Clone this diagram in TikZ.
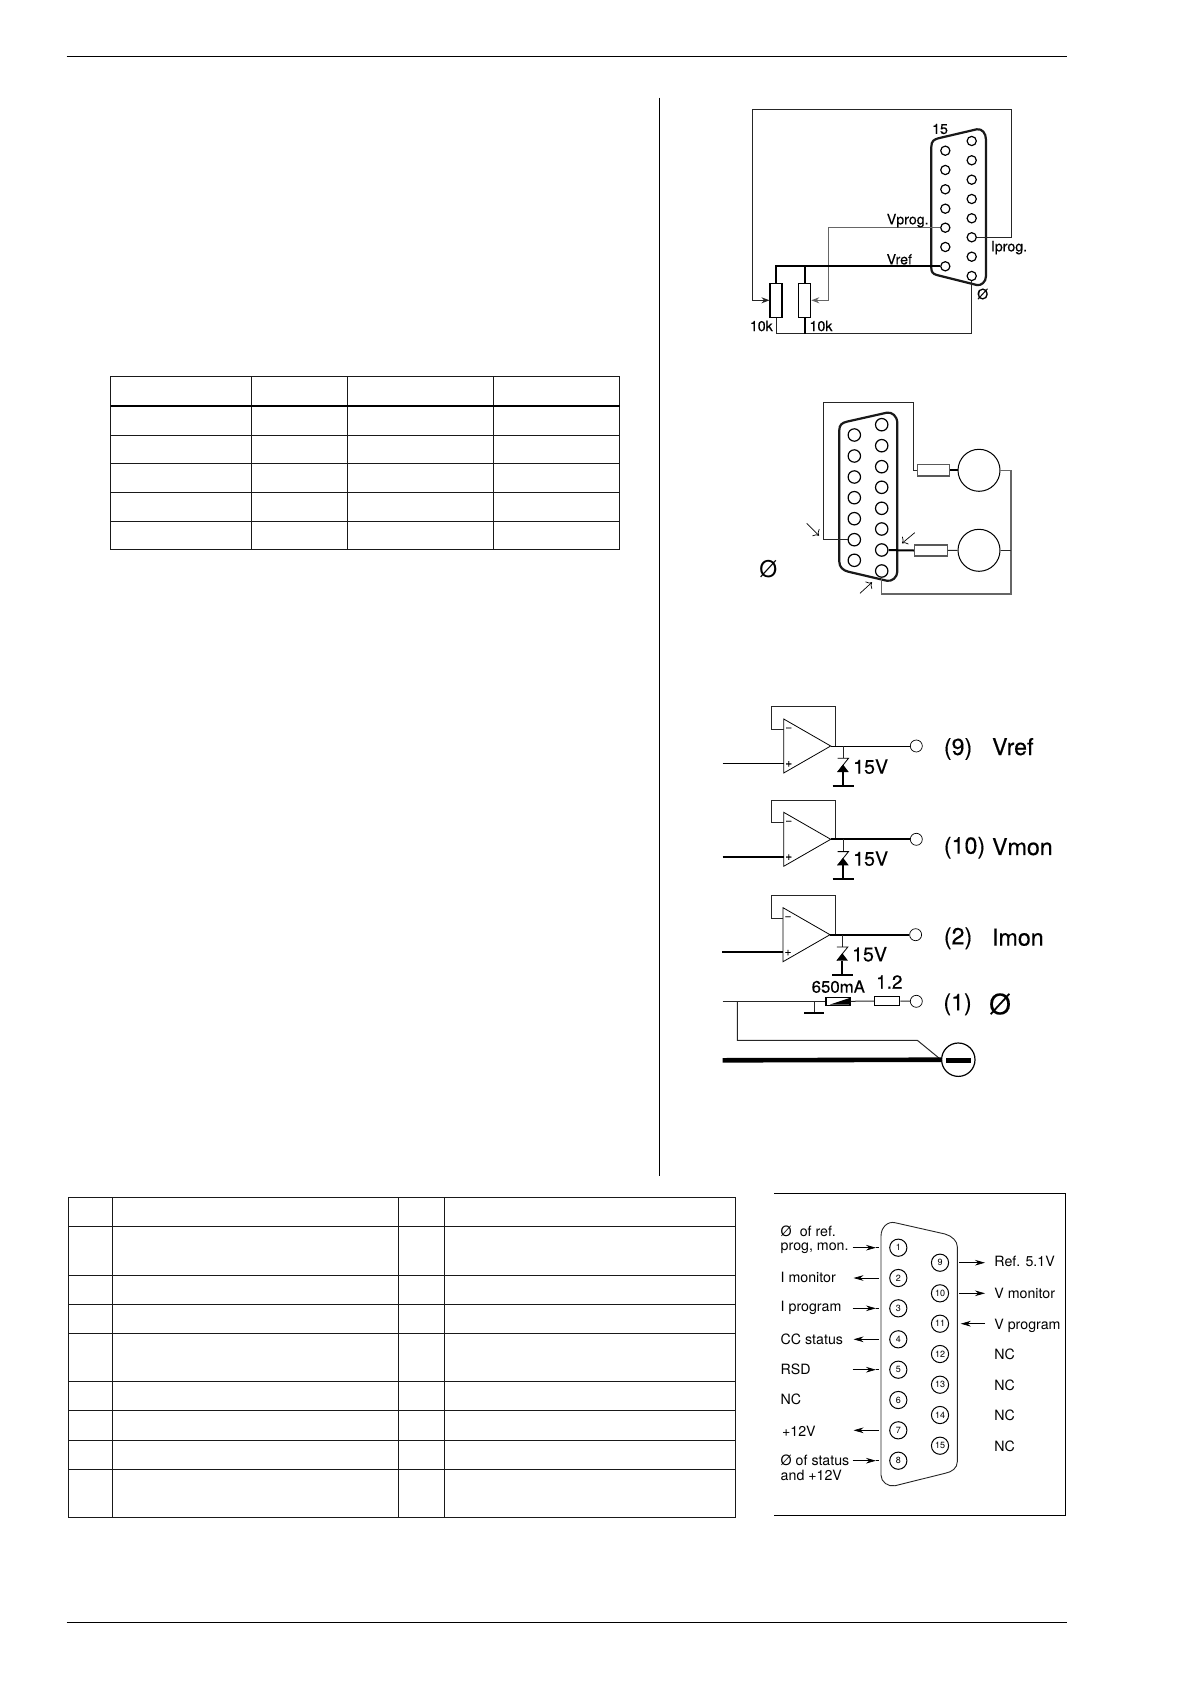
\documentclass[tikz,border=0pt]{standalone}
\usepackage{fontspec}
\setmainfont{TeX Gyre Heros}
\newfontfamily\heavyface{TeX Gyre Heros}[FakeBold=0.35]
\usetikzlibrary{arrows.meta}
\newcommand{\fsz}[1]{\fontsize{#1}{#1}\selectfont}
\tikzset{
  lab/.style={inner sep=0pt, font=\fsz{7.1}},
  labheavy/.style={inner sep=0pt, font=\heavyface\fsz{7.1}},
  labbig/.style={inner sep=0pt, font=\heavyface\fsz{11.6}},
  labmid/.style={inner sep=0pt, font=\heavyface\fsz{9.8}},
  wire/.style={line width=0.5pt, black!85},
  wiregray/.style={line width=0.6pt, black!60},
  wirebold/.style={line width=1pt, black},
  shell/.style={line width=1.1pt, black!90},
  pinsmall/.style={circle, draw, line width=0.6pt, fill=white, inner sep=0pt, minimum size=4.6pt},
  pinbig/.style={circle, draw, line width=0.6pt, fill=white, inner sep=0pt, minimum size=6.2pt},
  pinnum/.style={circle, draw, line width=0.5pt, fill=white, inner sep=0pt, minimum size=8.6pt, font=\fsz{4.5}},
  pad/.style={circle, draw, line width=0.35pt, fill=white, inner sep=0pt, minimum size=6pt},
  res/.style={rectangle, draw, line width=0.55pt, fill=white, inner sep=0pt},
  meter/.style={circle, draw, line width=0.5pt, fill=white, inner sep=0pt, minimum size=21pt},
  grid/.style={line width=0.5pt, black!90},
  tagarrow/.style={line width=0.35pt, -{Stealth[length=5pt,width=2.8pt]}},
  pics/opstage/.style={code={
    \draw[line width=0.4pt] (-47,-27) -- (-47,27) -- (0,0) -- cycle;
    \node[pad] (pin) at (85.6,0) {};
    \coordinate (fb) at (5,0);
    \draw[wire] (-47,-16.7) -- (-59,-16.7) -- (-59,-39.3) -- (5,-39.3) -- (fb);
    \draw[line width=#1] (0,0) -- (pin);
    \draw[line width=#1] (-108,17.3) -- (-47,17.3);
    \node[inner sep=0pt, font=\heavyface\fsz{6}] at (-42,-16.7) {\char"2212};
    \node[inner sep=0pt, font=\heavyface\fsz{6}] at (-42,18) {+};
    \draw[wire] (12.3,0) -- (12.3,12.3);
    \draw[line width=0.4pt] (6.8,12.3) -- (17.8,12.3) -- (6.8,26);
    \fill (12.3,18.5) -- (18,26) -- (6.8,26) -- cycle;
    \draw[wirebold] (12.3,26) -- (12.3,40);
    \draw[line width=1pt] (2,40) -- (23,40);
  }},
}
\begin{document}
\begin{tikzpicture}[x=0.5pt,y=-0.5pt]
  \useasboundingbox (0,0) rectangle (1192,1684);
  \draw[line width=0.5pt] (66.6,57) -- (1066.5,57);
  \draw[line width=0.5pt] (66.6,1622.8) -- (1066.5,1622.8);
  \draw[line width=0.7pt] (659.4,97.7) -- (659.4,1176);

  \draw[grid] (110.5,377) rectangle (619.5,549);
  \draw[grid] (251.3,377) -- (251.3,549);
  \draw[grid] (347.1,377) -- (347.1,549);
  \draw[grid] (493.3,377) -- (493.3,549);
  \draw[line width=1.1pt] (110.5,405.7) -- (619.5,405.7);
  \draw[grid] (110.5,435.3) -- (619.5,435.3);
  \draw[grid] (110.5,463.3) -- (619.5,463.3);
  \draw[grid] (110.5,492.3) -- (619.5,492.3);
  \draw[grid] (110.5,521.3) -- (619.5,521.3);

  \draw[grid] (68.3,1197.3) rectangle (735.3,1517.7);
  \draw[grid] (112.5,1197.3) -- (112.5,1517.7);
  \draw[grid] (398.7,1197.3) -- (398.7,1517.7);
  \draw[grid] (444.6,1197.3) -- (444.6,1517.7);
  \draw[grid] (68.3,1226.3) -- (735.3,1226.3);
  \draw[grid] (68.3,1275.3) -- (735.3,1275.3);
  \draw[grid] (68.3,1304.3) -- (735.3,1304.3);
  \draw[grid] (68.3,1333.3) -- (735.3,1333.3);
  \draw[grid] (68.3,1381.3) -- (735.3,1381.3);
  \draw[grid] (68.3,1410.3) -- (735.3,1410.3);
  \draw[grid] (68.3,1440.3) -- (735.3,1440.3);
  \draw[grid] (68.3,1469.3) -- (735.3,1469.3);

  \draw[shell] (931.3,268) -- (931.3,147) .. controls (931.3,141) and (934,139.5) .. (938.3,138.3) -- (976.7,129.3) .. controls (982,128.5) and (986,133) .. (986,140) -- (986,276) .. controls (986,282) and (981,286) .. (976.7,285) -- (936.7,275) .. controls (933,274) and (931.3,272) .. (931.3,268) -- cycle;
  \foreach \n/\y in {1/150.7,2/170,3/189.3,4/208.7,5/227.7,6/247,7/266.3}
    \node[pinsmall] (pa\n) at (945.3,\y) {};
  \foreach \n/\y in {1/141,2/160.3,3/179.7,4/199,5/218.3,6/237.3,7/256.7,8/276}
    \node[pinsmall] (pb\n) at (971.7,\y) {};
  \node[res, minimum width=6pt, minimum height=17pt] (rone) at (776,300.3) {};
  \node[res, minimum width=6pt, minimum height=17pt] (rtwo) at (804.7,300.3) {};
  \coordinate (busa) at (752.7,109.3);
  \coordinate (busb) at (1011,109.3);
  \coordinate (busc) at (828.7,227.7);
  \coordinate (retn) at (776,334);
  \draw[wire, -{Stealth[length=4pt,width=3pt]}] (pb6) -| (busb) -- (busa) |- (rone.west);
  \draw[wiregray, -{Stealth[length=4pt,width=3pt]}] (pa5) -- (busc) |- (rtwo.east);
  \draw[wirebold] (pa7) -| (rone.north);
  \draw[wirebold] (rtwo.north) -- (rtwo.north |- pa7);
  \draw[wire] (rone.south) -- (retn) -| (pb8);
  \draw[wirebold] (rtwo.south) -- (rtwo.south |- retn);
  \node[labheavy] (nfif) at (940,129) {15};
  \node[labheavy] (nvpr) at (907.7,220.7) {Vprog.};
  \node[labheavy] (nipr) at (1009,247.7) {Iprog.};
  \node[labheavy] (nvrf) at (899.3,259.3) {Vref};
  \node[labheavy] (ngnd) at (982.7,294) {Ø};
  \node[labheavy] (nrone) at (761.3,326) {10k};
  \node[labheavy] (nrtwo) at (821,326) {10k};

  \draw[shell] (839.3,561.7) -- (839.3,430) .. controls (839.3,425) and (842,422.8) .. (846.7,421.7) -- (886.7,412.7) .. controls (892,411.8) and (897.3,416) .. (897.3,423.3) -- (897.3,571.7) .. controls (897.3,577) and (892,582) .. (886.7,580.7) -- (848.3,571.7) .. controls (843,570.5) and (839.3,567) .. (839.3,561.7) -- cycle;
  \foreach \n/\y in {1/435,2/456,3/477,4/497.7,5/518.7,6/539.7,7/560.3}
    \node[pinbig] (qa\n) at (854.3,\y) {};
  \foreach \n/\y in {1/424.7,2/445.7,3/466.7,4/487.3,5/508.3,6/529,7/550,8/571}
    \node[pinbig] (qb\n) at (881.7,\y) {};
  \node[res, draw=black!65, minimum width=16.3pt, minimum height=5.7pt] (rtop) at (933.6,470.3) {};
  \node[res, draw=black!65, minimum width=16.5pt, minimum height=5.5pt] (rbot) at (930.8,550.5) {};
  \node[meter] (mtop) at (979,470.3) {};
  \node[meter] (mbot) at (979,550.3) {};
  \coordinate (lpa) at (823.3,402.7);
  \coordinate (lpb) at (913.3,402.7);
  \coordinate (rgt) at (1011,594);
  \draw[wire] (qa6) -- (qa6 -| lpa) -- (lpa) -- (lpb) |- (rtop.west);
  \draw[wirebold] (rtop.east) -- (mtop);
  \draw[wirebold] (qb7) -- (rbot.west);
  \draw[wire] (rbot.east) -- (mbot);
  \draw[wiregray] (mtop.east) -| (rgt) -| (qb8);
  \draw[wire] (mbot.east) -- (mbot.east -| rgt);
  \draw[line width=0.35pt, ->] (806.7,523.3) -- (819,535.7);
  \draw[line width=0.35pt, ->] (914.7,532.7) -- (902,543.3);
  \draw[line width=0.35pt, ->] (860,593.3) -- (872,582.3);
  \node[inner sep=0pt, font=\fsz{11.5}] (nnull) at (768.3,569) {Ø};

  \path (830.7,746) pic (sa) {opstage=0.4pt};
  \path (830.7,839.3) pic (sb) {opstage=0.95pt};
  \path (830,934.7) pic (sc) {opstage=0.95pt};
  \node[labmid, anchor=west] (nzna) at (852.8,766.7) {15V};
  \node[labmid, anchor=west] (nznb) at (852.8,858.7) {15V};
  \node[labmid, anchor=west] (nznc) at (851.7,954.3) {15V};
  \node[labbig, anchor=west] (nnra) at (943.5,749) {(9)};
  \node[labbig, anchor=west] (nnma) at (991.7,746.7) {Vref};
  \node[labbig, anchor=west] (nnrb) at (943.5,847.7) {(10)};
  \node[labbig, anchor=west] (nnmb) at (991.7,846.7) {Vmon};
  \node[labbig, anchor=west] (nnrc) at (943.5,938.3) {(2)};
  \node[labbig, anchor=west] (nnmc) at (991.7,937.3) {Imon};
  \node[labbig, anchor=west] (nnrd) at (943,1004.3) {(1)};
  \node[inner sep=0pt, font=\heavyface\fsz{14}] (nnmd) at (1000,1004) {Ø};
  \node[inner sep=0pt, font=\heavyface\fsz{8.4}] (nfuse) at (838.3,986.7) {650mA};
  \node[inner sep=0pt, font=\heavyface\fsz{9.5}] (nohm) at (889.3,982) {1.2};

  \node[res, minimum width=12pt, minimum height=4pt] (fuse) at (838,1001.3) {};
  \fill (830,1004.5) -- (849.5,998) -- (849.5,1004.5) -- cycle;
  \node[res, minimum width=12.5pt, minimum height=4.3pt] (rser) at (887.2,1001) {};
  \node[pad] (pser) at (916.3,1001.3) {};
  \coordinate (lnin) at (722.7,1001.3);
  \coordinate (gstem) at (814,1001.3);
  \coordinate (gfoot) at (814,1013.3);
  \coordinate (tap) at (737.3,1001.3);
  \coordinate (tapb) at (737.3,1040.3);
  \coordinate (tapc) at (917.3,1040.3);
  \coordinate (hvin) at (722.7,1060.3);
  \node[circle, draw, line width=0.6pt, inner sep=0pt, minimum size=16.7pt] (term) at (958.3,1059.7) {};
  \draw[wire] (lnin) -- (fuse.west);
  \draw[wire] (fuse.east) -- (rser.west);
  \draw[wire] (rser.east) -- (pser);
  \draw[wire] (gstem) -- (gfoot);
  \draw[line width=0.9pt] (804.3,1013.3) -- (823.7,1013.3);
  \draw[wire] (tap) -- (tapb) -- (tapc) -- (term.west);
  \draw[line width=2.3pt] (hvin) -- (term.west);
  \draw[line width=2.3pt] (946,1060.3) -- (970.7,1060.3);

  \draw[line width=0.5pt] (774,1193.3) -- (1065.3,1193.3) -- (1065.3,1515) -- (774,1515);
  \draw[line width=0.45pt, black!85] (881,1475) -- (881,1236) .. controls (881,1227) and (888,1221) .. (895,1222.7) -- (945,1234) .. controls (952,1236) and (957.3,1241) .. (957.3,1246.7) -- (957.3,1461.7) .. controls (957.3,1468) and (952,1472) .. (945,1473.3) -- (895,1485.7) .. controls (888,1487) and (881,1482) .. (881,1475) -- cycle;
  \foreach \n/\y in {1/1247.7,2/1278,3/1308.3,4/1339.3,5/1369.7,6/1400,7/1430.3,8/1460.7}
    \node[pinnum] (ca\n) at (898.3,\y) {\n};
  \foreach \n/\y in {9/1262.7,10/1293.3,11/1323.7,12/1354,13/1384.7,14/1415,15/1445.7}
    \node[pinnum] (cb\n) at (940,\y) {\n};
  \foreach \n/\y in {1/1247.7,3/1308.3,5/1369.7,8/1460.7} {
    \coordinate (ta\n) at (852.7,\y);
    \coordinate (tb\n) at (876,\y);
    \coordinate (tc\n) at (879,\y);
    \draw[tagarrow] (ta\n) -- (tb\n);
    \draw[line width=0.35pt] (tb\n) -- (tc\n);
  }
  \foreach \n/\y in {2/1278,4/1339.3,7/1430.3} {
    \coordinate (ta\n) at (879,\y);
    \coordinate (tb\n) at (853.5,\y);
    \draw[tagarrow] (ta\n) -- (tb\n);
  }
  \foreach \n/\y in {9/1262.7,10/1293.3} {
    \coordinate (ta\n) at (959.3,\y);
    \coordinate (tb\n) at (985,\y);
    \draw[tagarrow] (ta\n) -- (tb\n);
  }
  \coordinate (tb11) at (960.7,1323.7);
  \coordinate (ta11) at (985,1323.7);
  \draw[tagarrow] (ta11) -- (tb11);
  \node[lab, anchor=west] (ta) at (780.3,1231.5) {Ø\hspace{4pt}of ref.};
  \node[lab, anchor=west] (tb) at (780.3,1247.8) {prog, mon.};
  \node[lab, anchor=west] (tc) at (780.3,1277.3) {I monitor};
  \node[lab, anchor=west] (td) at (780.3,1308) {I program};
  \node[lab, anchor=west] (te) at (780.3,1339) {CC status};
  \node[lab, anchor=west] (tf) at (780.3,1369.3) {RSD};
  \node[lab, anchor=west] (tg) at (780.3,1399) {NC};
  \node[lab, anchor=west] (th) at (781.7,1431) {+12V};
  \node[lab, anchor=west] (ti) at (780.3,1460) {Ø of status};
  \node[lab, anchor=west] (tj) at (780.3,1475.7) {and +12V};
  \node[lab, anchor=west] (tk) at (994,1261) {Ref. 5.1V};
  \node[lab, anchor=west] (tl) at (994,1293.3) {V monitor};
  \node[lab, anchor=west] (tm) at (994,1325.7) {V program};
  \node[lab, anchor=west] (tn) at (994,1354.3) {NC};
  \node[lab, anchor=west] (to) at (994,1385) {NC};
  \node[lab, anchor=west] (tp) at (994,1415) {NC};
  \node[lab, anchor=west] (tq) at (994,1446) {NC};
\end{tikzpicture}
\end{document}
